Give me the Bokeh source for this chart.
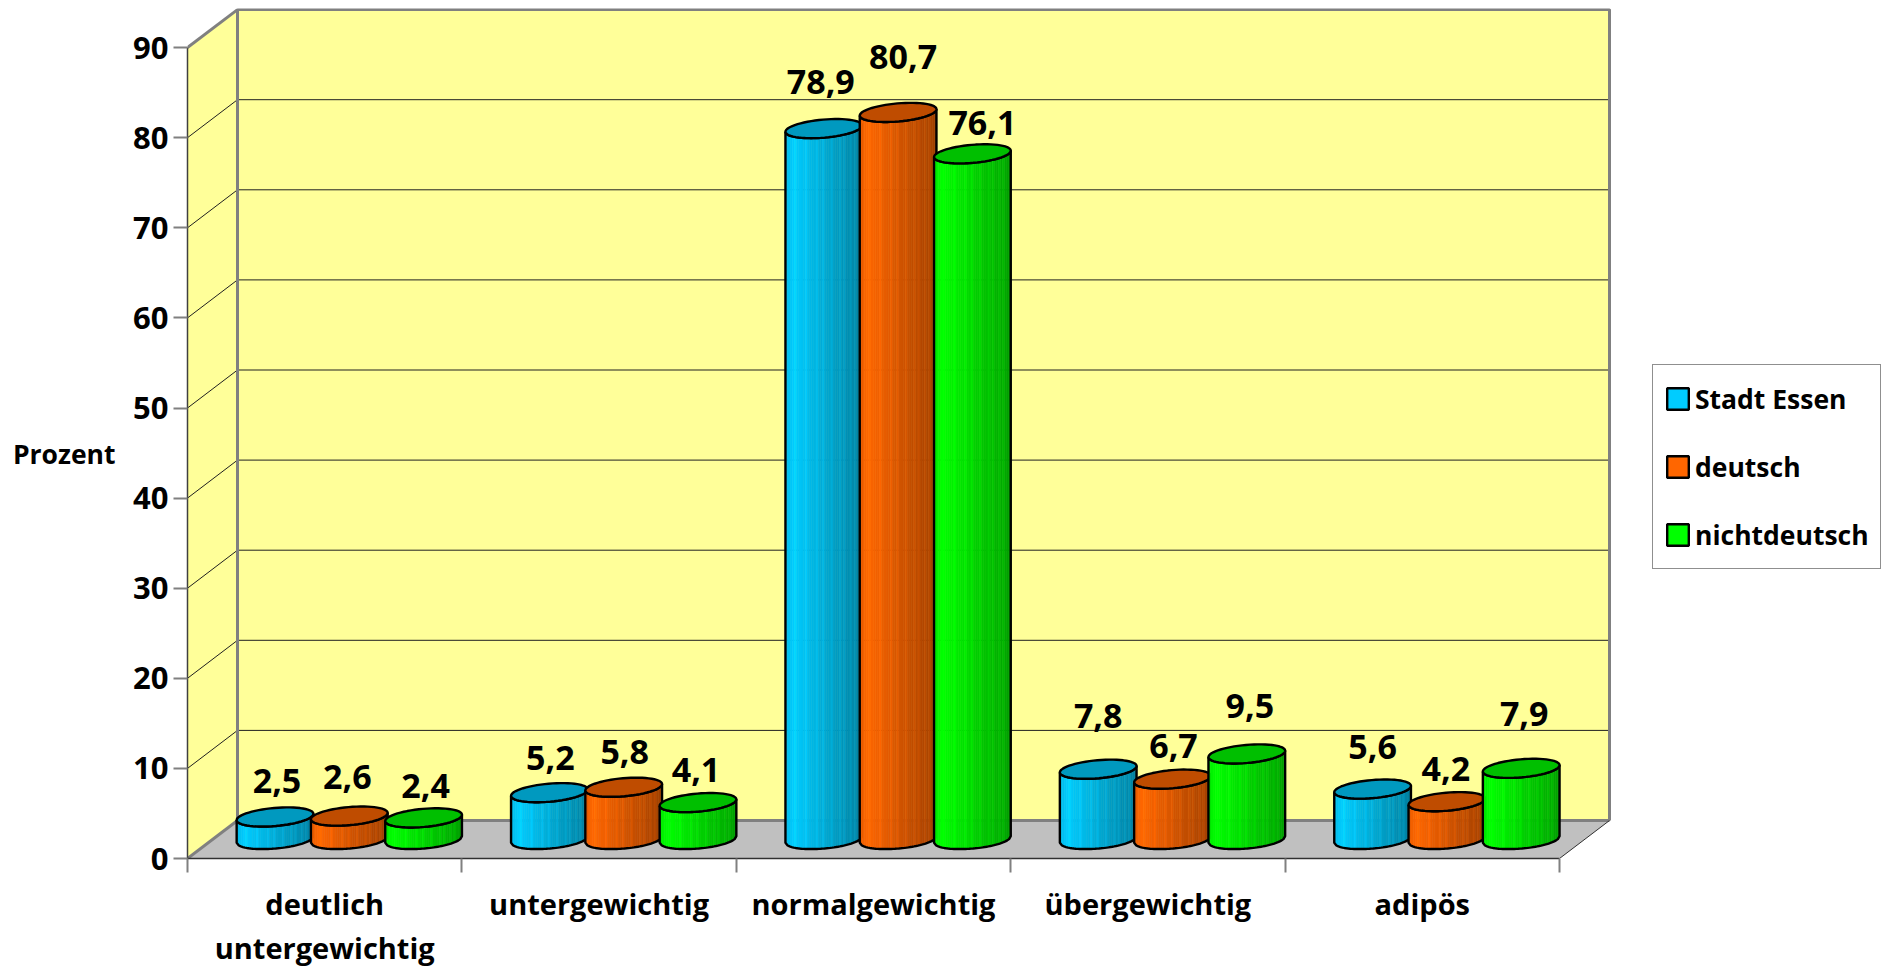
import math
from bokeh.plotting import figure
from bokeh.layouts import row
from bokeh.models import ColumnDataSource, FixedTicker, Legend, LegendItem, LinearAxis
from bokeh.core.properties import value
from bokeh.embed import file_html
from bokeh.resources import INLINE

categories = ["deutlich", "untergewichtig", "normalgewichtig", "übergewichtig", "adipös"]
second_line = "untergewichtig"
y_title = "Prozent"
stadt_essen = [2.5, 5.2, 78.9, 7.8, 5.6]
deutsch = [2.6, 5.8, 80.7, 6.7, 4.2]
nichtdeutsch = [2.4, 4.1, 76.1, 9.5, 7.9]
series_names = ["Stadt Essen", "deutsch", "nichtdeutsch"]
y_ticks = [0, 10, 20, 30, 40, 50, 60, 70, 80, 90]

# layout (px per data unit, measured on the reference)
PX_X = 274.4
PX_Y = 9.01
DX = 50 / PX_X
DY = 38 / PX_Y
FONT = "Open Sans"
W, H = 1640, 969
LEGEND_W = 250
LEFT, RIGHT_EDGE, TOP, BOTTOM = 187, 1612, 8, 858

# colour per series
BASE = [(0, 204, 255), (255, 102, 0), (0, 255, 0)]
LIGHT_STRIPES = [4, 9, 14, 17, 21, 25, 27, 30, 32]
N_STRIPS = 36

# lift (px) and nudge (px) of each value label above its cylinder's top
lift = [[36, 39, 32], [35, 35, 33], [47, 55, 31], [53, 33, 48], [42, 33, 54]]
nudge = [[2, -2, 2], [1, 1, -2], [-3, 5, 10], [0, 1, 3], [0, -1, 3]]

p = figure(
    width=W, height=H, output_backend="svg", toolbar_location=None, tools="",
    x_range=(0, (RIGHT_EDGE - LEFT) / PX_X),
    y_range=(0, (BOTTOM - TOP) / PX_Y),
    min_border_left=LEFT, min_border_right=W - RIGHT_EDGE,
    min_border_top=TOP, min_border_bottom=H - BOTTOM,
    background_fill_color="white", border_fill_color="white",
)
p.outline_line_color = None
p.grid.visible = False

n_cat = len(categories)
top_v = y_ticks[-1]

# side wall, back wall, floor
p.patch([0, DX, DX, 0], [0, DY, top_v + DY, top_v], fill_color="#FFFF99", line_color=None)
p.patch([DX, n_cat + DX, n_cat + DX, DX], [DY, DY, top_v + DY, top_v + DY],
        fill_color="#FFFF99", line_color=None)
p.patch([0, n_cat, n_cat + DX, DX], [0, 0, DY, DY], fill_color="#C0C0C0", line_color=None)

# grid lines on side and back walls
grid_x, grid_y = [], []
for v in y_ticks[1:-1]:
    grid_x.append([0, DX, n_cat + DX])
    grid_y.append([v, v + DY, v + DY])
p.multi_line(grid_x, grid_y, line_color="#202020", line_width=1)

# gray frame lines
p.multi_line(
    [[DX, DX, n_cat + DX, n_cat + DX], [0, DX], [0, DX], [DX, n_cat + DX]],
    [[DY, top_v + DY, top_v + DY, DY], [top_v, top_v + DY], [0, DY], [DY, DY]],
    line_color="#808080", line_width=3)
p.line([n_cat, n_cat + DX], [0, DY], line_color="#303030", line_width=1)


def shade(u):
    if u < 0.1:
        return 0.92 + 0.8 * u
    return 1.0 - 0.38 * (u - 0.1) / 0.9


def rgb(c, f):
    return "#%02x%02x%02x" % tuple(min(255, int(round(x * f))) for x in c)


A, B, PHI = 38.5, 9.0, math.radians(5)


def ell(cost, sint):
    ex = (A * cost * math.cos(PHI) - B * sint * math.sin(PHI)) / PX_X
    ey = (A * cost * math.sin(PHI) + B * sint * math.cos(PHI)) / PX_Y
    return ex, ey


def arc_lower(u0, u1, n=4):
    pts = []
    for k in range(n + 1):
        u = u0 + (u1 - u0) * k / n
        c = 2 * u - 1
        s = -math.sqrt(max(0.0, 1 - c * c))
        pts.append(ell(c, s))
    return pts


def arc_full(n=60):
    return [ell(math.cos(2 * math.pi * k / n), math.sin(2 * math.pi * k / n)) for k in range(n + 1)]


series = [stadt_essen, deutsch, nichtdeutsch]
BAR_STEP = 74.3 / PX_X
FIRST = (49 + 38.5) / PX_X
BASE_Y = DY / 2

lab_x, lab_y, lab_t, lab_dx, lab_dy = [], [], [], [], []
for ci in range(n_cat):
    for si in range(3):
        v = series[si][ci]
        cx = ci + FIRST + si * BAR_STEP
        yb = BASE_Y
        yt = BASE_Y + v
        xs_all, ys_all, cols = [], [], []
        for i in range(N_STRIPS):
            u0, u1 = i / N_STRIPS, (i + 1) / N_STRIPS
            a = arc_lower(u0, u1)
            xs_all.append([cx + q_[0] for q_ in a] + [cx + q_[0] for q_ in reversed(a)])
            ys_all.append([yb + q_[1] for q_ in a] + [yt + q_[1] for q_ in reversed(a)])
            f = shade((u0 + u1) / 2)
            if i in LIGHT_STRIPES:
                f += 0.06
            cols.append(rgb(BASE[si], f))
        p.patches(xs_all, ys_all, fill_color=cols, line_color=cols, line_width=0.6)
        a = arc_lower(0, 1, 40)
        p.patch([cx + q_[0] for q_ in a] + [cx + q_[0] for q_ in reversed(a)],
                [yb + q_[1] for q_ in a] + [yt + q_[1] for q_ in reversed(a)],
                fill_color=None, line_color="black", line_width=2.4)
        e = arc_full()
        p.patch([cx + q_[0] for q_ in e], [yt + q_[1] for q_ in e],
                fill_color=rgb(BASE[si], 0.75), line_color="black", line_width=2.4)
        lab_x.append(cx)
        lab_y.append(yt)
        lab_t.append(f"{v:.1f}".replace(".", ","))
        lab_dx.append(nudge[ci][si])
        lab_dy.append(-lift[ci][si])

src = ColumnDataSource(dict(x=lab_x, y=lab_y, t=lab_t, dx=lab_dx, dy=lab_dy))
p.text("x", "y", text="t", x_offset="dx", y_offset="dy", source=src,
       text_font=value(FONT), text_font_style="bold", text_font_size="34px",
       text_color="black", text_align="center", text_baseline="middle")

# axes
xa = p.xaxis[0]
xa.ticker = FixedTicker(ticks=[i + 0.5 for i in range(n_cat)], minor_ticks=list(range(n_cat + 1)))
xa.major_label_overrides = {i + 0.5: categories[i] for i in range(n_cat)}
xa.bounds = (0, n_cat)
xa.major_tick_in = 0
xa.major_tick_out = 0
xa.minor_tick_in = 0
xa.minor_tick_out = 14
xa.minor_tick_line_color = "#808080"
xa.minor_tick_line_width = 2
xa.axis_line_color = "#303030"
xa.axis_line_width = 1.5
xa.major_label_standoff = 11
xa.major_label_text_font = FONT
xa.major_label_text_font_style = "bold"
xa.major_label_text_font_size = "29px"
xa.major_label_text_color = "black"

# second line of the wrapped category label, on an axis of its own
xb = LinearAxis(ticker=FixedTicker(ticks=[0.5], minor_ticks=[]),
                major_label_overrides={0.5: second_line},
                axis_line_color=None, major_tick_line_color=None, minor_tick_line_color=None,
                major_tick_in=0, major_tick_out=0, minor_tick_in=0, minor_tick_out=0,
                major_label_standoff=2, major_label_text_font=FONT,
                major_label_text_font_style="bold", major_label_text_font_size="29px",
                major_label_text_color="black")
p.add_layout(xb, "below")

ya = p.yaxis[0]
ya.ticker = FixedTicker(ticks=y_ticks, minor_ticks=[])
ya.bounds = (0, top_v)
ya.major_tick_in = 0
ya.major_tick_out = 14
ya.major_tick_line_color = "#808080"
ya.major_tick_line_width = 2
ya.axis_line_color = "#404040"
ya.axis_line_width = 1.5
ya.major_label_standoff = 5
ya.major_label_text_font = FONT
ya.major_label_text_font_style = "bold"
ya.major_label_text_font_size = "31px"
ya.major_label_text_color = "black"

# y title: an axis of its own, whose single label sits at the title's height
TITLE_AT = (BOTTOM - 453) / PX_Y
yb_ax = LinearAxis(ticker=FixedTicker(ticks=[TITLE_AT], minor_ticks=[]),
                   major_label_overrides={TITLE_AT: y_title},
                   axis_line_color=None, major_tick_line_color=None, minor_tick_line_color=None,
                   major_tick_in=0, major_tick_out=0, minor_tick_in=0, minor_tick_out=0,
                   major_label_standoff=15, major_label_text_font=FONT,
                   major_label_text_font_style="bold", major_label_text_font_size="26.5px",
                   major_label_text_color="black")
p.add_layout(yb_ax, "left")

# legend, on a figure of its own to the right of the chart
q = figure(width=LEGEND_W, height=H, output_backend="svg", toolbar_location=None, tools="",
           x_range=(0, 1), y_range=(0, 1), min_border=0,
           background_fill_color="white", border_fill_color="white")
q.axis.visible = False
q.grid.visible = False
q.outline_line_color = None
items = []
for si, name in enumerate(series_names):
    r = q.quad(left=[-2], right=[-1], bottom=[-2], top=[-1], fill_color=rgb(BASE[si], 1),
               line_color="black", line_width=2.4)
    items.append(LegendItem(label=name, renderers=[r]))
legend = Legend(items=items, location=(1652 - W, BOTTOM - 569), orientation="vertical",
                padding=11, margin=0, spacing=23, label_height=45, glyph_width=27, glyph_height=27,
                label_standoff=4, label_text_font=FONT, label_text_font_style="bold",
                label_text_font_size="26.5px", label_text_color="black",
                border_line_color="#202020", border_line_width=1.2,
                background_fill_color="white", background_fill_alpha=1)
q.add_layout(legend)

open("out.html", "w").write(file_html(row(p, q, spacing=0), INLINE))
